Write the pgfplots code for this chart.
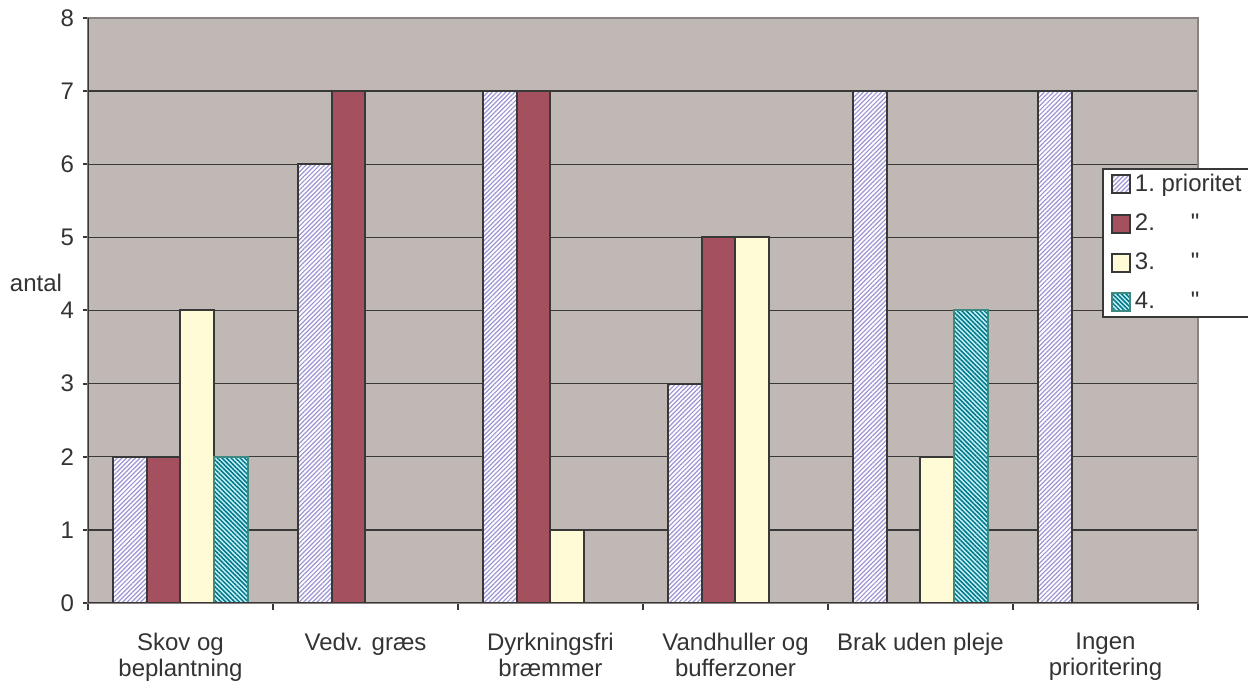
\documentclass[border=0pt]{standalone}
\usepackage{fontspec}
\setmainfont{Liberation Sans}
\newfontfamily\qfont{Liberation Sans}[Ligatures=TeXOff]
\usepackage{pgfplots}
\pgfplotsset{compat=1.18}
\usetikzlibrary{patterns.meta}
\definecolor{bgc}{HTML}{C0B8B5}
\definecolor{framec}{HTML}{8C8282}
\definecolor{darkc}{HTML}{383838}
\definecolor{txtc}{HTML}{333333}
\definecolor{lavc}{HTML}{9C94D4}
\definecolor{redc}{HTML}{A5505F}
\definecolor{yelc}{HTML}{FFFBD6}
\definecolor{cyanc}{HTML}{C8F2F8}
\definecolor{tealc}{HTML}{00788A}
\definecolor{tealb}{HTML}{3E8A80}
\newcommand\lbl{\fontsize{12}{13}\selectfont}
\newcommand\qq{{\qfont"}}
\pgfplotsset{
  lgplain/.style={legend image code/.code={\draw[##1] (0pt,-4.5pt) rectangle (9pt,4.5pt);}},
  lgwhite/.style={legend image code/.code={\fill[white] (0pt,-4.5pt) rectangle (9pt,4.5pt);\draw[##1] (0pt,-4.5pt) rectangle (9pt,4.5pt);}},
  lgcyan/.style={legend image code/.code={\fill[cyanc] (0pt,-4.5pt) rectangle (9pt,4.5pt);\draw[##1] (0pt,-4.5pt) rectangle (9pt,4.5pt);}},
}
\begin{document}
\begin{tikzpicture}
\useasboundingbox (-44pt,-40.5pt) rectangle (580pt,301.5pt);
\begin{axis}[
  at={(0,0)}, anchor=south west,
  scale only axis, width=555pt, height=292.5pt,
  xmin=-0.5, xmax=5.5, ymin=0, ymax=8,
  ybar, bar width=0.1818,
  ytick={0,...,8},
  xtick={0,...,5},
  xticklabels={{Skov og\\beplantning},{Vedv. græs},{Dyrkningsfri\\bræmmer},{Vandhuller og\\bufferzoner},{Brak uden pleje},{Ingen\\prioritering}},
  minor xtick={-0.5,0.5,1.5,2.5,3.5,4.5,5.5},
  xtick pos=bottom, ytick pos=left,
  tick align=outside,
  major tick length=2.5pt, minor tick length=3.5pt,
  major x tick style={draw=none},
  tick style={draw=darkc, line width=1pt},
  /pgf/number format/assume math mode=true,
  every tick label/.append style={text=txtc, font=\lbl},
  xticklabel style={align=center, yshift=-9pt},
  yticklabel style={xshift=-1pt},
  ylabel={antal},
  every axis y label/.style={at={(rel axis cs:0,0.547)}, anchor=center, xshift=-26pt, font=\lbl, text=txtc},
  axis background/.style={fill=bgc},
  axis line style={draw=framec, line width=1pt},
  ymajorgrids, grid style={draw=darkc, line width=0.75pt},
  legend cell align=left,
  legend style={at={(rel axis cs:0.9135,0.7436)}, anchor=north west, draw=darkc, line width=1pt, fill=white, font=\lbl, text=txtc, row sep=5.7pt, inner ysep=0.6pt, inner xsep=4pt},
]
% white background of the hatched series 1
\addplot[forget plot, bar shift=-0.2727, fill=white, draw=none]
  coordinates {(0,2) (1,6) (2,7) (3,3) (4,7) (5,7)};
\addplot[bar shift=-0.2727, draw=darkc, line width=1pt,
  pattern={Lines[angle=45,distance=1.6pt,line width=0.6pt]}, pattern color=lavc, lgwhite]
  coordinates {(0,2) (1,6) (2,7) (3,3) (4,7) (5,7)};
\addplot[bar shift=-0.0909, fill=redc, draw=darkc, line width=1pt, lgplain]
  coordinates {(0,2) (1,7) (2,7) (3,5)};
\addplot[bar shift=0.0909, fill=yelc, draw=darkc, line width=1pt, lgplain]
  coordinates {(0,4) (2,1) (3,5) (4,2)};
\addplot[forget plot, bar shift=0.2727, fill=cyanc, draw=none]
  coordinates {(0,2) (4,4)};
\addplot[bar shift=0.2727, draw=tealb, line width=1pt,
  pattern={Lines[angle=-45,distance=1.6pt,line width=0.75pt]}, pattern color=tealc, lgcyan]
  coordinates {(0,2) (4,4)};
\legend{1.\ prioritet\hspace{14pt}, \makebox[28pt][l]{2.}\qq, \makebox[28pt][l]{3.}\qq, \makebox[28pt][l]{4.}\qq}
\draw[darkc, line width=1pt] (rel axis cs:0,1) -- (rel axis cs:0,0) -- (rel axis cs:1,0);
\end{axis}
\end{tikzpicture}
\end{document}
